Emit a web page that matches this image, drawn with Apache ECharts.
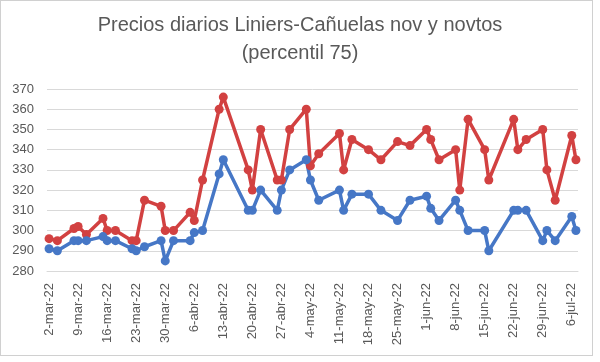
<!DOCTYPE html>
<html><head><meta charset="utf-8">
<script src="https://cdn.jsdelivr.net/npm/echarts@6/dist/echarts.min.js"></script>
<style>
html,body{margin:0;padding:0;background:#fff}
#c{position:absolute;left:0;top:0;width:600px;height:362px}
#frame{position:absolute;left:0;top:0;width:591px;height:354px;border:1px solid #d0d0d0;pointer-events:none}
</style>
</head><body><div id="c"></div><div id="frame"></div>
<script>
const chartTitle = 'Precios diarios Liniers-Cañuelas nov y novtos\n(percentil 75)';
const axisStart = '2022-03-02';
const axisEnd = '2022-07-07';
const monthNames = ['ene','feb','mar','abr','may','jun','jul','ago','sep','oct','nov','dic'];
const pointDates = [
 '2022-03-02','2022-03-04','2022-03-08','2022-03-09','2022-03-11','2022-03-15','2022-03-16','2022-03-18','2022-03-22','2022-03-23',
 '2022-03-25','2022-03-29','2022-03-30','2022-04-01','2022-04-05','2022-04-06','2022-04-08','2022-04-12','2022-04-13','2022-04-19',
 '2022-04-20','2022-04-22','2022-04-26','2022-04-27','2022-04-29','2022-05-03','2022-05-04','2022-05-06','2022-05-11','2022-05-12',
 '2022-05-14','2022-05-18','2022-05-21','2022-05-25','2022-05-28','2022-06-01','2022-06-02','2022-06-04','2022-06-08','2022-06-09',
 '2022-06-11','2022-06-15','2022-06-16','2022-06-22','2022-06-23','2022-06-25','2022-06-29','2022-06-30','2022-07-02','2022-07-06',
 '2022-07-07'];
const redValues = [296,295,301,302,298,306,300,300,295,295,
 315,312,300,300,309,305,325,360,366,330,
 320,350,325,325,350,360,332,338,348,330,
 345,340,335,344,342,350,345,335,340,320,
 355,340,325,355,340,345,350,330,315,347,
 335];
const blueValues = [291,290,295,295,295,297,295,295,291,290,
 292,295,285,295,295,299,300,328,335,310,
 310,320,310,320,330,335,325,315,320,310,
 318,318,310,305,315,317,311,305,315,310,
 300,300,290,310,310,310,295,300,295,307,
 300];
const yMin = 280, yMax = 370, yStep = 10;
const labelEveryDays = 7;

function iso(d){return d.toISOString().slice(0,10);}
const categories = [];
for (let t = Date.parse(axisStart+'T00:00:00Z'); t <= Date.parse(axisEnd+'T00:00:00Z'); t += 86400000) {
  categories.push(iso(new Date(t)));
}
function toSeries(vals){
  const m = {};
  pointDates.forEach((d,i)=>{m[d]=vals[i];});
  return categories.map(c => (c in m) ? m[c] : null);
}
function fmt(v){
  const p = v.split('-');
  return parseInt(p[2],10)+'-'+monthNames[parseInt(p[1],10)-1]+'-'+p[0].slice(2);
}
const FONT = 'Liberation Sans';
const TXT = '#595959';
const chart = echarts.init(document.getElementById('c'), null, {renderer:'canvas'});
chart.setOption({
  backgroundColor:'#ffffff',
  animation:false,
  title:{text:chartTitle,left:'center',top:6,
    textStyle:{fontFamily:FONT,fontSize:20,lineHeight:28,fontWeight:'normal',color:TXT,align:'center'}},
  grid:{left:47,right:22,top:89,bottom:91,containLabel:false},
  xAxis:{type:'category',data:categories,boundaryGap:true,
    axisLine:{show:true,lineStyle:{color:'#d9d9d9',width:1}},
    axisTick:{show:false},
    axisLabel:{interval:labelEveryDays-1,rotate:90,margin:12,fontFamily:FONT,fontSize:13,color:TXT,formatter:fmt},
    splitLine:{show:false}},
  yAxis:{type:'value',min:yMin,max:yMax,interval:yStep,
    axisLine:{show:false},axisTick:{show:false},
    axisLabel:{margin:13,fontFamily:FONT,fontSize:13,color:TXT},
    splitLine:{show:true,lineStyle:{color:'#d9d9d9',width:1}}},
  series:[
    {name:'rojo',type:'line',data:toSeries(redValues),connectNulls:true,
     symbol:'circle',symbolSize:9,showAllSymbol:true,
     lineStyle:{color:'#d24141',width:3.5},itemStyle:{color:'#d24141'}},
    {name:'azul',type:'line',data:toSeries(blueValues),connectNulls:true,
     symbol:'circle',symbolSize:9,showAllSymbol:true,
     lineStyle:{color:'#4677c6',width:3.5},itemStyle:{color:'#4677c6'}}
  ]
});
</script>
</body></html>
